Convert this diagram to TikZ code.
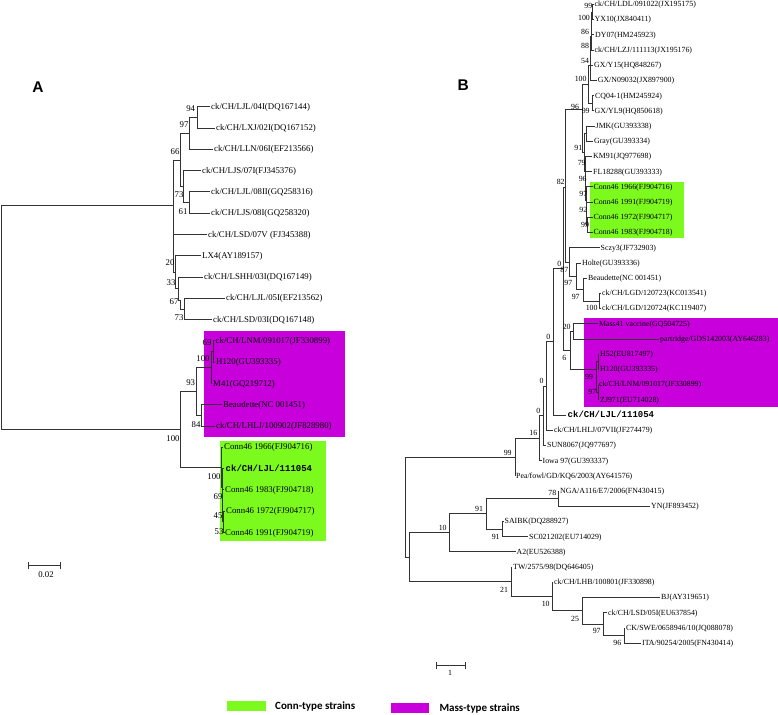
\documentclass[tikz,border=0pt]{standalone}
\usepackage{fontspec}
\setmainfont{Liberation Serif}
\setsansfont{Liberation Sans}
\setmonofont{Liberation Mono}
\newfontfamily\legendfont{Carlito}
\definecolor{conngreen}{RGB}{124,250,30}
\definecolor{massmag}{RGB}{200,0,220}

\begin{document}
\begin{tikzpicture}[x=1pt, y=-1pt,
  br/.style={line width=0.65pt, draw=black!80},
  leafA/.style={anchor=west, inner sep=1pt, text height=6pt, text depth=0.6pt, font=\fontsize{8.8}{10}\selectfont},
  leafB/.style={anchor=west, inner sep=1pt, text height=5.4pt, text depth=0.5pt, font=\fontsize{7.85}{9}\selectfont},
  strain/.style={anchor=west, inner sep=1.5pt, text height=6pt, text depth=0.6pt, font=\fontsize{9}{10}\ttfamily\bfseries},
  bootA/.style={inner sep=0pt, font=\fontsize{8.8}{10}\selectfont},
  bootB/.style={inner sep=0pt, font=\fontsize{7.85}{9}\selectfont},
  panel/.style={inner sep=0pt, font=\fontsize{15.5}{16}\sffamily\bfseries},
  legtext/.style={anchor=west, inner sep=0pt, font=\fontsize{11}{12}\legendfont\bfseries}]
\useasboundingbox (0,0) rectangle (778,714);

% coloured groups
\fill[massmag] (204,330.7) rectangle (345,437.3);
\fill[conngreen] (220,441) rectangle (325.7,540.7);
\fill[conngreen] (590,181.7) rectangle (684.3,238.3);
\fill[massmag] (584.3,318.3) rectangle (777.7,407.3);

\node[panel] (titleA) at (38,87) {A};
\node[panel] (titleB) at (463.3,85) {B};

% tree A, leaves
\node[leafA] (a0) at (210,106.7) {ck/CH/LJL/04I(DQ167144)};
\node[leafA] (a1) at (215,128.0) {ck/CH/LXJ/02I(DQ167152)};
\node[leafA] (a2) at (213,149.3) {ck/CH/LLN/06I(EF213566)};
\node[leafA] (a3) at (201,170.5) {ck/CH/LJS/07I(FJ345376)};
\node[leafA] (a4) at (210,191.8) {ck/CH/LJL/08II(GQ258316)};
\node[leafA] (a5) at (210,213.1) {ck/CH/LJS/08I(GQ258320)};
\node[leafA] (a6) at (207,234.4) {ck/CH/LSD/07V (FJ345388)};
\node[leafA] (a7) at (201,255.7) {LX4(AY189157)};
\node[leafA] (a8) at (203,276.9) {ck/CH/LSHH/03I(DQ167149)};
\node[leafA] (a9) at (225,298.2) {ck/CH/LJL/05I(EF213562)};
\node[leafA] (a10) at (212,319.5) {ck/CH/LSD/03I(DQ167148)};
\node[leafA] (a11) at (214.5,340.8) {ck/CH/LNM/091017(JF330899)};
\node[leafA] (a12) at (215,362.1) {H120(GU393335)};
\node[leafA] (a13) at (212,383.3) {M41(GQ219712)};
\node[leafA] (a14) at (222,404.6) {Beaudette(NC 001451)};
\node[leafA] (a15) at (215,425.9) {ck/CH/LHLJ/100902(JF828980)};
\node[leafA] (a16) at (223,447.2) {Conn46 1966(FJ904716)};
\node[strain] (a17) at (224,468.5) {ck/CH/LJL/111054};
\node[leafA] (a18) at (224,489.7) {Conn46 1983(FJ904718)};
\node[leafA] (a19) at (225,511.0) {Conn46 1972(FJ904717)};
\node[leafA] (a20) at (224,532.3) {Conn46 1991(FJ904719)};

% tree A, inner nodes
\coordinate (a94n) at (197,117.3);
\coordinate (a97n) at (189,133.3);
\coordinate (a61n) at (189,202.5);
\coordinate (a73n) at (183,186.5);
\coordinate (a66n) at (180,159.9);
\coordinate (a73m) at (184,308.9);
\coordinate (a67n) at (180,300);
\coordinate (a33n) at (178,288.5);
\coordinate (a20n) at (175,272.1);
\coordinate (aUp) at (173,205.7);
\coordinate (a69n) at (213,351.5);
\coordinate (a100m) at (211,367.4);
\coordinate (a84n) at (201,415.3);
\coordinate (a93n) at (196,391.3);
\coordinate (a53n) at (223.5,521.7);
\coordinate (a45n) at (222.7,505.7);
\coordinate (a69g) at (222,487.1);
\coordinate (a100g) at (221,467.2);
\coordinate (a100n) at (180,429.3);
\coordinate (aRoot) at (1.2,317.5);

\draw[br] (a94n) |- (a0.west) (a94n) |- (a1.west);
\draw[br] (a97n) |- (a94n) (a97n) |- (a2.west);
\draw[br] (a61n) |- (a4.west) (a61n) |- (a5.west);
\draw[br] (a73n) |- (a3.west) (a73n) |- (a61n);
\draw[br] (a66n) |- (a97n) (a66n) |- (a73n);
\draw[br] (a73m) |- (a9.west) (a73m) |- (a10.west);
\draw[br] (a67n) |- (a73m);
\draw[br] (a33n) |- (a8.west) (a33n) |- (a67n);
\draw[br] (a20n) |- (a7.west) (a20n) |- (a33n);
\draw[br] (aUp) |- (a66n) (aUp) |- (a6.west) (aUp) |- (a20n);
\draw[br] (a69n) |- (a11.west) (a69n) |- (a12.west);
\draw[br] (a100m) |- (a69n) (a100m) |- (a13.west);
\draw[br] (a84n) |- (a14.west) (a84n) |- (a15.west);
\draw[br] (a93n) |- (a100m) (a93n) |- (a84n);
\draw[br] (a53n) |- (a19.west) (a53n) |- (a20.west);
\draw[br] (a45n) |- (a18.west) (a45n) |- (a53n);
\draw[br] (a69g) |- (a17.west) (a69g) |- (a45n);
\draw[br] (a100g) |- (a16.west) (a100g) |- (a69g);
\draw[br] (a100n) |- (a93n) (a100n) |- (a100g);
\draw[br] (aRoot) |- (aUp) (aRoot) |- (a100n);

% tree A, bootstrap values
\node[bootA] (ba94) at (190.7,109) {94};
\node[bootA] (ba97) at (184,125) {97};
\node[bootA] (ba66) at (175,151.7) {66};
\node[bootA] (ba73) at (179,195) {73};
\node[bootA] (ba61) at (183,211.7) {61};
\node[bootA] (ba20) at (170,263) {20};
\node[bootA] (ba33) at (171,283) {33};
\node[bootA] (ba67) at (174,302) {67};
\node[bootA] (ba73m) at (179,318) {73};
\node[bootA] (ba69) at (207,343) {69};
\node[bootA] (ba100m) at (203,359) {100};
\node[bootA] (ba93) at (190.7,383) {93};
\node[bootA] (ba84) at (196,425) {84};
\node[bootA] (ba100) at (173,439) {100};
\node[bootA] (ba100g) at (214,477) {100};
\node[bootA] (ba69g) at (218,497) {69};
\node[bootA] (ba45) at (218,516) {45};
\node[bootA] (ba53) at (219,532) {53};

% tree A, scale
\coordinate (sa1) at (28.3,565.7);
\coordinate (sa2) at (60.3,565.7);
\draw[br] (sa1) -- (sa2) ([yshift=3.5pt]sa1) -- ([yshift=-3.5pt]sa1) ([yshift=3.5pt]sa2) -- ([yshift=-3.5pt]sa2);
\node[bootA] (scaleA) at (46,574.3) {0.02};

% tree B, leaves
\node[leafB] (b0) at (593.5,4.3) {ck/CH/LDL/091022(JX195175)};
\node[leafB] (b1) at (593.5,19.5) {YX10(JX840411)};
\node[leafB] (b2) at (594,34.7) {DY07(HM245923)};
\node[leafB] (b3) at (593.5,49.9) {ck/CH/LZJ/111113(JX195176)};
\node[leafB] (b4) at (593,65.1) {GX/Y15(HQ848267)};
\node[leafB] (b5) at (596.7,80.4) {GX/N09032(JX897900)};
\node[leafB] (b6) at (594,95.6) {CQ04-1(HM245924)};
\node[leafB] (b7) at (593.5,110.8) {GX/YL9(HQ850618)};
\node[leafB] (b8) at (594.5,126.0) {JMK(GU393338)};
\node[leafB] (b9) at (593,141.2) {Gray(GU393334)};
\node[leafB] (b10) at (592,156.4) {KM91(JQ977698)};
\node[leafB] (b11) at (592,171.6) {FL18288(GU393333)};
\node[leafB] (b12) at (592.5,186.8) {Conn46 1966(FJ904716)};
\node[leafB] (b13) at (592.5,202.0) {Conn46 1991(FJ904719)};
\node[leafB] (b14) at (592.5,217.2) {Conn46 1972(FJ904717)};
\node[leafB] (b15) at (592.5,232.5) {Conn46 1983(FJ904718)};
\node[leafB] (b16) at (599.5,247.7) {Sczy3(JF732903)};
\node[leafB] (b17) at (581,262.9) {Holte(GU393336)};
\node[leafB] (b18) at (587,278.1) {Beaudette(NC 001451)};
\node[leafB] (b19) at (601,293.3) {ck/CH/LGD/120723(KC013541)};
\node[leafB] (b20) at (601,308.5) {ck/CH/LGD/120724(KC119407)};
\node[leafB] (b21) at (598,323.7) {Mass41 vaccine(GQ504725)};
\node[leafB] (b22) at (659,338.9) {partridge/GDS142003(AY646283)};
\node[leafB] (b23) at (599,354.1) {H52(EU817497)};
\node[leafB] (b24) at (599,369.3) {H120(GU393335)};
\node[leafB] (b25) at (598,384.5) {ck/CH/LNM/091017(JF330899)};
\node[leafB] (b26) at (599,399.8) {ZJ971(EU714028)};
\node[strain] (b27) at (566,415.0) {ck/CH/LJL/111054};
\node[leafB] (b28) at (553,430.2) {ck/CH/LHLJ/07VII(JF274479)};
\node[leafB] (b29) at (546,445.4) {SUN8067(JQ977697)};
\node[leafB] (b30) at (541.5,460.6) {Iowa 97(GU393337)};
\node[leafB] (b31) at (515,475.8) {Pea/fowl/GD/KQ6/2003(AY641576)};
\node[leafB] (b32) at (559,491.0) {NGA/A116/E7/2006(FN430415)};
\node[leafB] (b33) at (650,506.2) {YN(JF893452)};
\node[leafB] (b34) at (503.5,521.4) {SAIBK(DQ288927)};
\node[leafB] (b35) at (528,536.6) {SC021202(EU714029)};
\node[leafB] (b36) at (515.5,551.8) {A2(EU526388)};
\node[leafB] (b37) at (512,567.1) {TW/2575/98(DQ646405)};
\node[leafB] (b38) at (553,582.3) {ck/CH/LHB/100801(JF330898)};
\node[leafB] (b39) at (660,597.5) {BJ(AY319651)};
\node[leafB] (b40) at (607,612.7) {ck/CH/LSD/05I(EU637854)};
\node[leafB] (b41) at (625,627.9) {CK/SWE/0658946/10(JQ088078)};
\node[leafB] (b42) at (641,643.1) {ITA/90254/2005(FN430414)};

% tree B, inner nodes
\coordinate (nA) at (592.5,11.9);
\coordinate (nB) at (591.8,23.3);
\coordinate (nC) at (591.2,36.6);
\coordinate (nD) at (590.6,50.9);
\coordinate (nE) at (590,65.6);
\coordinate (nG) at (592.3,103.2);
\coordinate (nF) at (588.5,84.4);
\coordinate (nJ) at (586.7,133.6);
\coordinate (n99c) at (587.5,224.9);
\coordinate (n92) at (586.5,213.6);
\coordinate (n97) at (586,200.2);
\coordinate (n96b) at (585.5,186.0);
\coordinate (n79) at (585,171.2);
\coordinate (n91) at (584.5,152.4);
\coordinate (n96) at (582.3,109.3);
\coordinate (n100L) at (599.3,300.9);
\coordinate (n97b) at (583.3,289.5);
\coordinate (n97a) at (576,276);
\coordinate (n87) at (569,261.9);
\coordinate (n82) at (565.7,187);
\coordinate (n20) at (573,331.3);
\coordinate (nHH) at (598,361.7);
\coordinate (n97m) at (598,392.1);
\coordinate (n99m) at (596.7,369.3);
\coordinate (n6) at (570,350.3);
\coordinate (nT) at (563.3,268);
\coordinate (n0c) at (553.3,341.5);
\coordinate (n0b) at (546.7,385.9);
\coordinate (n0a) at (543.3,415.6);
\coordinate (n16) at (539.3,438.1);
\coordinate (n99) at (515,457);
\coordinate (n78) at (558.3,498.6);
\coordinate (n91b) at (502.7,529);
\coordinate (n91a) at (486.7,513.8);
\coordinate (n10a) at (449.3,532.8);
\coordinate (n96c) at (624,635.5);
\coordinate (n97c) at (603.3,624.1);
\coordinate (n25) at (582.3,610.8);
\coordinate (n10b) at (552.3,596.6);
\coordinate (n21) at (511,581.8);
\coordinate (nLow) at (409.3,557.3);
\coordinate (nRoot) at (405,507.2);

\draw[br] (nA) |- (b0.west) (nA) |- (b1.west);
\draw[br] (nB) |- (nA) (nB) |- (b2.west);
\draw[br] (nC) |- (nB) (nC) |- (b3.west);
\draw[br] (nD) |- (nC) (nD) |- (b4.west);
\draw[br] (nE) |- (nD) (nE) |- (b5.west);
\draw[br] (nG) |- (b6.west) (nG) |- (b7.west);
\draw[br] (nF) |- (nE) (nF) |- (nG);
\draw[br] (nJ) |- (b8.west) (nJ) |- (b9.west);
\draw[br] (n99c) |- (b14.west) (n99c) |- (b15.west);
\draw[br] (n92) |- (b13.west) (n92) |- (n99c);
\draw[br] (n97) |- (b12.west) (n97) |- (n92);
\draw[br] (n96b) |- (b11.west) (n96b) |- (n97);
\draw[br] (n79) |- (b10.west) (n79) |- (n96b);
\draw[br] (n91) |- (nJ) (n91) |- (n79);
\draw[br] (n96) |- (nF) (n96) |- (n91);
\draw[br] (n100L) |- (b19.west) (n100L) |- (b20.west);
\draw[br] (n97b) |- (b18.west) (n97b) |- (n100L);
\draw[br] (n97a) |- (b17.west) (n97a) |- (n97b);
\draw[br] (n87) |- (b16.west) (n87) |- (n97a);
\draw[br] (n82) |- (n96) (n82) |- (n87);
\draw[br] (n20) |- (b21.west) (n20) |- (b22.west);
\draw[br] (nHH) |- (b23.west) (nHH) |- (b24.west);
\draw[br] (n97m) |- (b25.west) (n97m) |- (b26.west);
\draw[br] (n99m) |- (nHH) (n99m) |- (n97m);
\draw[br] (n6) |- (n20) (n6) |- (n99m);
\draw[br] (nT) |- (n82) (nT) |- (n6);
\draw[br] (n0c) |- (nT) (n0c) |- (b27.west);
\draw[br] (n0b) |- (n0c) (n0b) |- (b28.west);
\draw[br] (n0a) |- (n0b) (n0a) |- (b29.west);
\draw[br] (n16) |- (n0a) (n16) |- (b30.west);
\draw[br] (n99) |- (n16) (n99) |- (b31.west);
\draw[br] (n78) |- (b32.west) (n78) |- (b33.west);
\draw[br] (n91b) |- (b34.west) (n91b) |- (b35.west);
\draw[br] (n91a) |- (n78) (n91a) |- (n91b);
\draw[br] (n10a) |- (n91a) (n10a) |- (b36.west);
\draw[br] (n96c) |- (b41.west) (n96c) |- (b42.west);
\draw[br] (n97c) |- (b40.west) (n97c) |- (n96c);
\draw[br] (n25) |- (b39.west) (n25) |- (n97c);
\draw[br] (n10b) |- (b38.west) (n10b) |- (n25);
\draw[br] (n21) |- (b37.west) (n21) |- (n10b);
\draw[br] (nLow) |- (n10a) (nLow) |- (n21);
\draw[br] (nRoot) |- (n99) (nRoot) |- (nLow);

% tree B, bootstrap values
\node[bootB] (bb99a) at (588.3,6) {99};
\node[bootB] (bb100a) at (584,18.3) {100};
\node[bootB] (bb86) at (585,32.3) {86};
\node[bootB] (bb88) at (585,46) {88};
\node[bootB] (bb54) at (585,60.7) {54};
\node[bootB] (bb100b) at (580.7,79.3) {100};
\node[bootB] (bb96a) at (575,107.3) {96};
\node[bootB] (bb99b) at (585.7,111) {99};
\node[bootB] (bb91a) at (578.3,148.3) {91};
\node[bootB] (bb79) at (581.7,163.3) {79};
\node[bootB] (bb96b) at (582.7,179) {96};
\node[bootB] (bb82) at (560.7,182.3) {82};
\node[bootB] (bb97a) at (583.3,194.3) {97};
\node[bootB] (bb92) at (583.3,210) {92};
\node[bootB] (bb99c) at (585,225) {99};
\node[bootB] (bb0a) at (559.3,264) {0};
\node[bootB] (bb87) at (564.3,270) {87};
\node[bootB] (bb97b) at (568.3,283.3) {97};
\node[bootB] (bb97c) at (575.7,297.3) {97};
\node[bootB] (bb100c) at (591.7,308.3) {100};
\node[bootB] (bb20) at (566.7,326.7) {20};
\node[bootB] (bb0b) at (548.3,337.3) {0};
\node[bootB] (bb6) at (564.3,358.3) {6};
\node[bootB] (bb99d) at (589,377.3) {99};
\node[bootB] (bb0c) at (541.7,380.7) {0};
\node[bootB] (bb97d) at (592.3,391.7) {97};
\node[bootB] (bb0d) at (538.3,410.7) {0};
\node[bootB] (bb16) at (533.3,433.3) {16};
\node[bootB] (bb99e) at (507.7,453.3) {99};
\node[bootB] (bb78) at (552.3,493.3) {78};
\node[bootB] (bb91b) at (479,509.3) {91};
\node[bootB] (bb10a) at (442.7,528.3) {10};
\node[bootB] (bb91c) at (495.7,536.7) {91};
\node[bootB] (bb21) at (504,590) {21};
\node[bootB] (bb10b) at (545.7,604.3) {10};
\node[bootB] (bb25) at (575,619) {25};
\node[bootB] (bb97e) at (596.7,631) {97};
\node[bootB] (bb96c) at (617.3,643.3) {96};

% tree B, scale
\coordinate (sb1) at (436.7,665.7);
\coordinate (sb2) at (465.7,665.7);
\draw[br] (sb1) -- (sb2) ([yshift=3.5pt]sb1) -- ([yshift=-3.5pt]sb1) ([yshift=3.5pt]sb2) -- ([yshift=-3.5pt]sb2);
\node[bootB] (scaleB) at (450,673.3) {1};

% legend
\fill[conngreen] (226.7,700.7) rectangle (265.7,710.7);
\node[legtext] (legConn) at (275,706) {Conn-type strains};
\fill[massmag] (390.7,702.7) rectangle (429.3,712.7);
\node[legtext] (legMass) at (439.3,708.3) {Mass-type strains};
\end{tikzpicture}
\end{document}
